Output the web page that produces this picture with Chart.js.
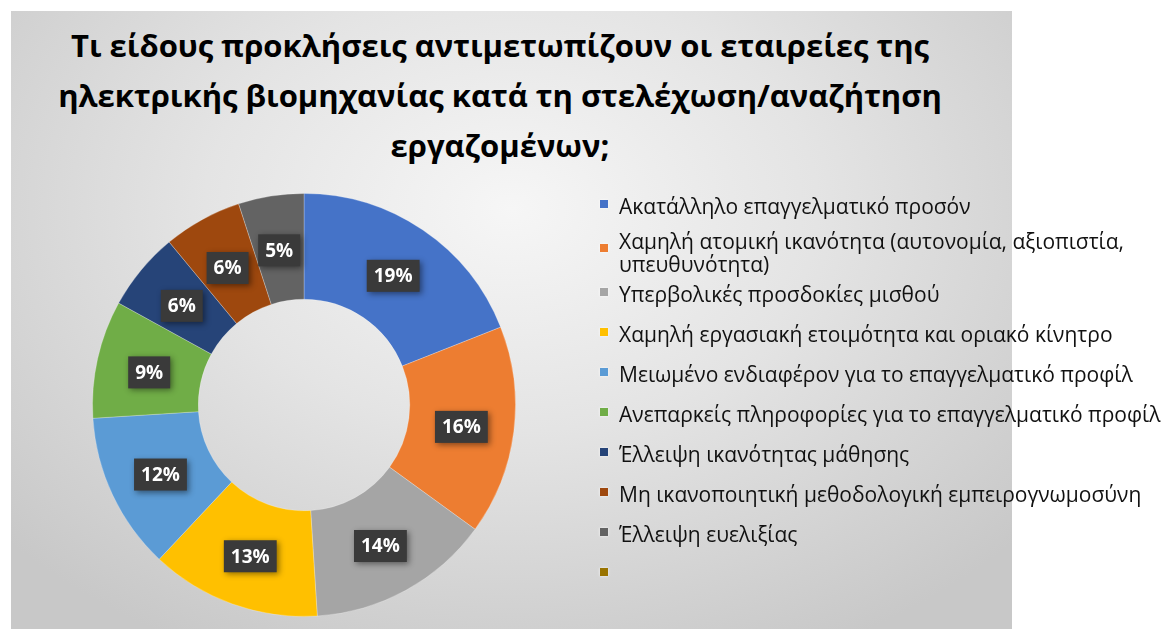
<!DOCTYPE html>
<html lang="el">
<head>
<meta charset="utf-8">
<title>Προκλήσεις στελέχωσης</title>
<script src="https://cdn.jsdelivr.net/npm/chart.js@4.4.1/dist/chart.umd.min.js"></script>
<style>
  html, body { margin: 0; padding: 0; width: 1163px; height: 631px; overflow: hidden; background: #fff; }
  #panel {
    position: absolute; left: 11px; top: 11px; width: 1001px; height: 618px;
    background: radial-gradient(ellipse 68% 80% at 50% 32%, #f6f6f6 0%, #e4e4e4 45%, #c8c8c8 100%);
  }
  #title {
    position: absolute; left: 0; top: 20px; width: 1000px; margin: 0;
    text-align: center; font: bold 31px 'Open Sans', sans-serif; line-height: 50px; color: #000;
  }
  #chartBox { position: absolute; left: 0; top: 163px; width: 608px; height: 468px; }
  #legend {
    position: absolute; left: 598px; top: 195px; width: 585px; margin: 0; padding: 0;
    list-style: none; font: 21px 'Open Sans', sans-serif; line-height: 23px; color: #111;
  }
  #legend li { display: flex; align-items: flex-start; margin-top: 17px; }
  #legend li:first-child { margin-top: 0; }
  #legend li:nth-child(2) { margin-top: 12px; }
  #legend li:nth-child(3) { margin-top: 7px; }
  #legend .box { flex: 0 0 8px; height: 8px; margin: 5px 11px 0 2px; box-shadow: 0 0 3px rgba(255,255,255,0.9); }
  #legend li:nth-child(2) .box { margin-top: 14px; }
</style>
</head>
<body>
<div id="panel"></div>
<h1 id="title">Τι είδους προκλήσεις αντιμετωπίζουν οι εταιρείες της<br>ηλεκτρικής βιομηχανίας κατά τη στελέχωση/αναζήτηση<br>εργαζομένων;</h1>
<div id="chartBox"><canvas id="donut"></canvas></div>
<ul id="legend"></ul>
<script>
const labels = [
  'Ακατάλληλο επαγγελματικό προσόν',
  'Χαμηλή ατομική ικανότητα (αυτονομία, αξιοπιστία, υπευθυνότητα)',
  'Υπερβολικές προσδοκίες μισθού',
  'Χαμηλή εργασιακή ετοιμότητα και οριακό κίνητρο',
  'Μειωμένο ενδιαφέρον για το επαγγελματικό προφίλ',
  'Ανεπαρκείς πληροφορίες για το επαγγελματικό προφίλ',
  'Έλλειψη ικανότητας μάθησης',
  'Μη ικανοποιητική μεθοδολογική εμπειρογνωμοσύνη',
  'Έλλειψη ευελιξίας',
  ''
];
const shares = [19, 16, 14, 13, 12, 9, 6, 6, 5];
const colors = [
  '#4573c8', '#ed7d31', '#a5a5a5', '#ffc000', '#5b9bd5',
  '#70ad47', '#264478', '#9e480e', '#636363', '#997300'
];

// dark value boxes in the middle of each slice
const valueBoxes = {
  id: 'valueBoxes',
  afterDatasetsDraw(chart) {
    const ctx = chart.ctx;
    const meta = chart.getDatasetMeta(0);
    ctx.save();
    ctx.font = 'bold 19px "Open Sans"';
    ctx.textAlign = 'center';
    ctx.textBaseline = 'middle';
    meta.data.forEach((arc, i) => {
      const v = shares[i];
      if (!v) return;
      const pos = arc.tooltipPosition(true);
      const text = v + '%';
      const w = ctx.measureText(text).width + 14;
      const h = 32;
      ctx.shadowColor = 'rgba(0,0,0,0.45)';
      ctx.shadowBlur = 6;
      ctx.shadowOffsetX = 2;
      ctx.shadowOffsetY = 2;
      ctx.fillStyle = '#3a3a3a';
      ctx.fillRect(pos.x - w / 2, pos.y - h / 2 + 2, w, h);
      ctx.shadowColor = 'transparent';
      ctx.fillStyle = '#fff';
      ctx.fillText(text, pos.x, pos.y + 3);
    });
    ctx.restore();
  }
};

const ctx = document.getElementById('donut').getContext('2d');

// eslint-disable-next-line no-undef
new Chart(ctx, {
  type: 'doughnut',
  data: {
    labels,
    datasets: [
      {
        data: shares,
        backgroundColor: colors,
        borderColor: 'rgba(255,255,255,0.25)',
        borderWidth: 1,
      }
    ],
  },
  options: {
    responsive: true,
    maintainAspectRatio: false,
    animation: false,
    cutout: '50%',
    layout: { padding: { left: 92, right: 92, top: 30, bottom: 14 } },
    plugins: {
      legend: { display: false },
      tooltip: { enabled: false }
    }
  },
  plugins: [valueBoxes]
});

// legend list built from the same labels and colours
const legend = document.getElementById('legend');
labels.forEach((text, i) => {
  const li = document.createElement('li');
  const box = document.createElement('span');
  box.className = 'box';
  box.style.background = colors[i];
  const span = document.createElement('span');
  span.textContent = text || '\u00a0';
  li.appendChild(box);
  li.appendChild(span);
  legend.appendChild(li);
});
</script>
</body>
</html>
